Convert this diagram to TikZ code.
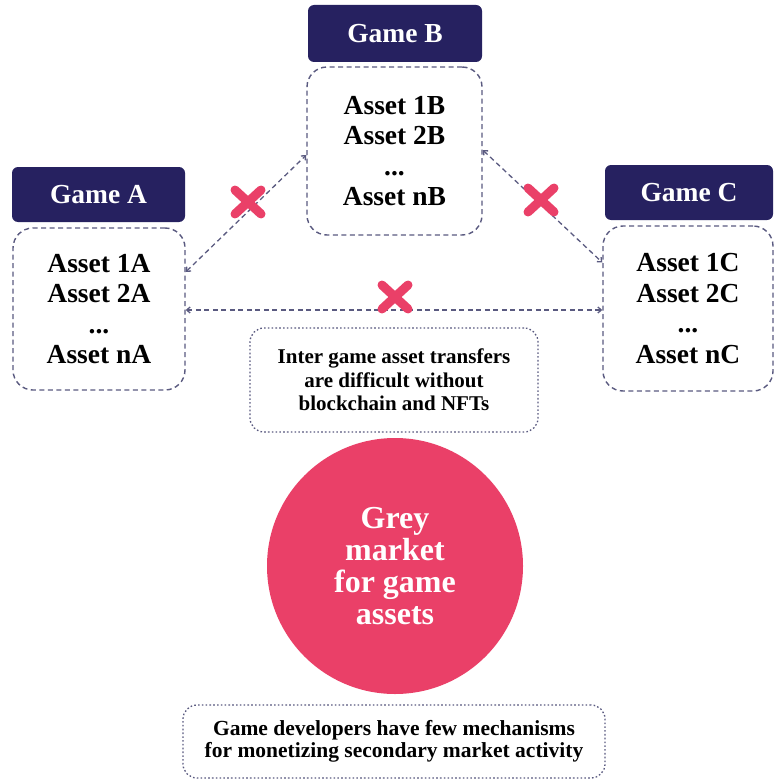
\documentclass[tikz,border=0pt]{standalone}
\usepackage{fontspec}
\setmainfont{Liberation Serif}
\usetikzlibrary{arrows.meta}
\definecolor{navy}{RGB}{38,33,96}
\definecolor{edgegrey}{RGB}{90,90,128}
\definecolor{crimson}{RGB}{234,64,104}

\begin{document}
\begin{tikzpicture}[x=1pt,y=-1pt,
  header/.style={fill=navy, rounded corners=6pt, text=white, inner sep=0pt,
    font=\bfseries\fontsize{27.5}{30}\selectfont},
  assetbox/.style={draw=edgegrey, line width=1.4pt, dash pattern=on 5pt off 3.5pt,
    rounded corners=20pt, align=center, inner sep=0pt,
    font=\bfseries\fontsize{27.5}{30.5}\selectfont},
  notebox/.style={draw=edgegrey, line width=1.3pt, dash pattern=on 1.6pt off 2.2pt,
    rounded corners=14pt, align=center, inner sep=0pt},
  link/.style={draw=edgegrey, line width=1.3pt, dash pattern=on 5pt off 3.5pt,
    {Straight Barb[length=3.5pt,width=6pt]}-{Straight Barb[length=3.5pt,width=6pt]}},
  market/.style={circle, fill=crimson, text=white, align=center, inner sep=0pt,
    minimum size=256pt, font=\bfseries\fontsize{32}{32}\selectfont},
  blocked/.pic={
    \draw[crimson, line width=9pt, line cap=round] (-13,-12) -- (13,12) (-13,12) -- (13,-12);
  }]

\fill[white] (0,0) rectangle (775,781);
\useasboundingbox (0,0) rectangle (775,781);

% game headers
\node[header, minimum width=173pt, minimum height=55pt] (hA) at (98.5,194.5) {Game A};
\node[header, minimum width=174pt, minimum height=57pt] (hB) at (395,33.5) {Game B};
\node[header, minimum width=168pt, minimum height=55pt] (hC) at (689,192.5) {Game C};

% asset lists
\node[assetbox, minimum width=172pt, minimum height=162pt] (boxA) at (99,309)
  {Asset 1A\\Asset 2A\\...\\Asset nA};
\node[assetbox, minimum width=175pt, minimum height=168pt] (boxB) at (394.5,151)
  {Asset 1B\\Asset 2B\\...\\Asset nB};
\node[assetbox, minimum width=170pt, minimum height=165pt] (boxC) at (688,308.5)
  {Asset 1C\\Asset 2C\\...\\Asset nC};

% transfers between games
\draw[link] ([yshift=37pt]boxA.east) -- ([yshift=-4pt]boxB.west);
\draw[link] ([yshift=1pt]boxB.east) -- ([yshift=46pt]boxC.west);
\draw[link] ([yshift=-1pt]boxA.east) -- ([yshift=-1pt]boxA.east -| boxC.west);

\pic at (248,202) {blocked};
\pic at (541,200) {blocked};
\pic at (395,297) {blocked};

% notes
\node[notebox, minimum width=288pt, minimum height=104pt,
  font=\bfseries\fontsize{21}{23.5}\selectfont] (note) at (394,380)
  {Inter game asset transfers\\are difficult without\\blockchain and NFTs};

\node[market] (grey) at (395,566) {Grey\\market\\for game\\assets};

\node[notebox, minimum width=422pt, minimum height=73pt,
  font=\bfseries\fontsize{21.5}{22.5}\selectfont] (foot) at (394,741.5)
  {Game developers have few mechanisms\\for monetizing secondary market activity};
\end{tikzpicture}
\end{document}
